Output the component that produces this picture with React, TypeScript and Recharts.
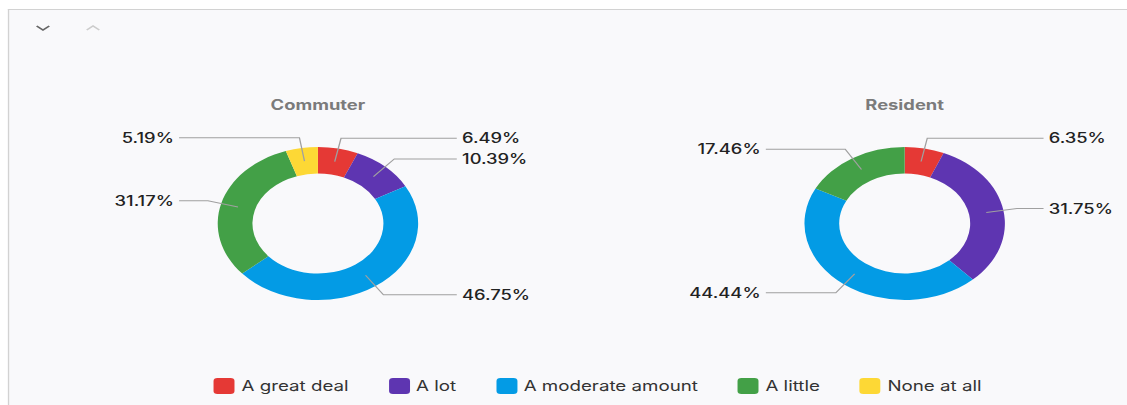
import React from "react";
import { PieChart, Pie, Cell } from "recharts";

const categories = ["A great deal", "A lot", "A moderate amount", "A little", "None at all"];
const colors = ["#E53935", "#5E35B1", "#039BE5", "#43A047", "#FDD835"];
const groups = ["Commuter", "Resident"];
const commuterValues = [6.49, 10.39, 46.75, 31.17, 5.19];
const residentValues = [6.35, 31.75, 44.44, 17.46, 0];

const S = 1.31;
const W = 1127;
const H = 405;
const NW = W / S;
const CY = 223.5;
const OUTER = 76.5;
const INNER = 50;
const CENTERS = [242.7, 690.6];
const RAD = Math.PI / 180;

const build = (vals: number[]) =>
  categories
    .map((name, i) => ({ name, value: vals[i], color: colors[i] }))
    .filter((d) => d.value > 0);

const commuterData = build(commuterValues);
const residentData = build(residentValues);

const renderLabel = (props: any) => {
  const { cx, cy, midAngle, innerRadius, outerRadius, value } = props;
  const cos = Math.cos(-midAngle * RAD);
  const sin = Math.sin(-midAngle * RAD);
  const rMid = (innerRadius + outerRadius) / 2;
  const rElbow = outerRadius + 10.5;
  const sx = cx + rMid * cos;
  const sy = cy + rMid * sin;
  const ex = cx + rElbow * cos;
  const ey = cy + rElbow * sin;
  const right = cos >= 0;
  const lx = right ? cx + 106 : cx - 106;
  const tx = right ? cx + 110 : cx - 110;
  return (
    <g>
      <polyline
        points={`${sx},${sy} ${ex},${ey} ${lx},${ey}`}
        fill="none"
        stroke="#a0a0a0"
        strokeWidth={1}
      />
      <text
        x={tx}
        y={ey}
        textAnchor={right ? "start" : "end"}
        dominantBaseline="central"
        fontFamily="Inter, sans-serif"
        fontSize={14}
        fontWeight={500}
        fill="#222"
      >
        {`${Number(value).toFixed(2)}%`}
      </text>
    </g>
  );
};

export default function App() {
  const datasets = [commuterData, residentData];
  return (
    <div
      style={{
        position: "fixed",
        left: 0,
        top: 0,
        width: W,
        height: H,
        background: "#fff",
        overflow: "hidden",
      }}
    >
      <div
        style={{
          position: "absolute",
          left: 0,
          top: 0,
          width: NW,
          height: H,
          transform: `scaleX(${S})`,
          transformOrigin: "0 0",
          fontFamily: "Inter, sans-serif",
        }}
      >
        <div
          style={{
            position: "absolute",
            left: 8 / S,
            top: 9,
            width: NW,
            height: H,
            background: "#f9f9fb",
            borderTop: "1.5px solid #d2d2d2",
            borderLeft: "1px solid #d2d2d2",
          }}
        />
        <svg
          style={{ position: "absolute", left: 0, top: 0 }}
          width={120}
          height={50}
        >
          <polyline points="28,26 32.8,30 37.6,26" fill="none" stroke="#666" strokeWidth={1.6} />
          <polyline points="66.2,30 71,26 75.8,30" fill="none" stroke="#ccc" strokeWidth={1.4} />
        </svg>
        {groups.map((g, i) => (
          <div
            key={g}
            style={{
              position: "absolute",
              left: CENTERS[i] - 100,
              width: 200,
              top: 96,
              textAlign: "center",
              fontSize: 14,
              fontWeight: 700,
              color: "#7b7b7b",
              lineHeight: "18px",
            }}
          >
            {g}
          </div>
        ))}
        <div style={{ position: "absolute", left: 0, top: 0 }}>
          <PieChart width={NW} height={H} margin={{ top: 0, right: 0, bottom: 0, left: 0 }}>
            {datasets.map((data, i) => (
              <Pie
                key={groups[i]}
                data={data}
                dataKey="value"
                nameKey="name"
                cx={CENTERS[i]}
                cy={CY}
                innerRadius={INNER}
                outerRadius={OUTER}
                startAngle={90}
                endAngle={-270}
                stroke="none"
                label={renderLabel}
                labelLine={false}
                isAnimationActive={false}
              >
                {data.map((d) => (
                  <Cell key={d.name} fill={d.color} />
                ))}
              </Pie>
            ))}
          </PieChart>
        </div>
        <div
          style={{
            position: "absolute",
            left: 163.4,
            top: 377,
            display: "flex",
            alignItems: "center",
            gap: 30.5,
            fontSize: 14.3,
            color: "#333",
            lineHeight: "18px",
          }}
        >
          {categories.map((c, i) => (
            <div key={c} style={{ display: "flex", alignItems: "center" }}>
              <span
                style={{
                  display: "inline-block",
                  width: 16,
                  height: 16,
                  borderRadius: 3,
                  background: colors[i],
                  marginRight: 5,
                }}
              />
              <span>{c}</span>
            </div>
          ))}
        </div>
      </div>
    </div>
  );
}
